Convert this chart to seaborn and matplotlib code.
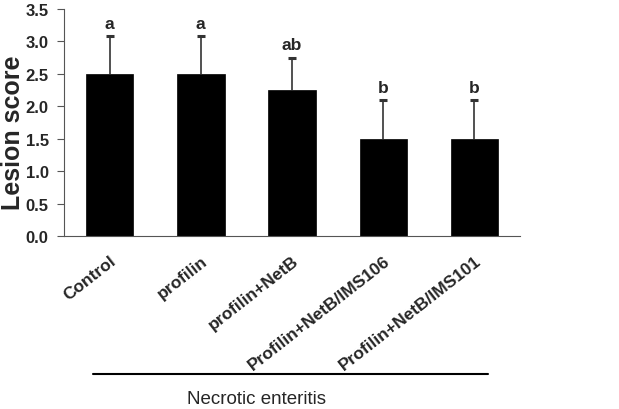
import matplotlib
matplotlib.use("Agg")
import matplotlib.pyplot as plt
import seaborn as sns
import pandas as pd
import numpy as np
from matplotlib.lines import Line2D

categories = ["Control", "profilin", "profilin+NetB", "Profilin+NetB/IMS106", "Profilin+NetB/IMS101"]
scores = [2.5, 2.5, 2.25, 1.5, 1.5]
errors = [0.58, 0.58, 0.5, 0.6, 0.6]
letters = ["a", "a", "ab", "b", "b"]
yticks = [0.0, 0.5, 1.0, 1.5, 2.0, 2.5, 3.0, 3.5]

sns.set_style("white")
plt.rcParams['font.family'] = ['Liberation Sans', 'DejaVu Sans']

df = pd.DataFrame({"group": categories, "score": scores})

fig = plt.figure(figsize=(6.19, 4.10), dpi=100)
ax = fig.add_axes([0.1034, 0.422, 0.7367, 0.5536])

sns.barplot(data=df, x="group", y="score", color="black", width=0.52,
            errorbar=None, ax=ax, saturation=1, edgecolor="black", linewidth=0.5)

xpos = np.arange(len(categories))
eb = ax.errorbar(xpos, scores, yerr=[np.zeros(len(errors)), errors], fmt="none",
                 ecolor="#333333", elinewidth=1.2, capsize=3, capthick=2.2, zorder=3)
eb[1][0].set_visible(False)

for x, s, e, l in zip(xpos, scores, errors, letters):
    ax.text(x, s + e + 0.08, l, ha="center", va="bottom", fontsize=12.5,
            fontweight="bold")

ax.set_xlim(-0.5, 4.5)
ax.set_ylim(0, 3.5)
ax.set_yticks(yticks)
ax.set_yticklabels([f"{v:.1f}" for v in yticks], fontsize=12, fontweight="bold")
ax.set_xticks(xpos)
ax.set_xticklabels(categories, rotation=38, ha="right", rotation_mode="anchor",
                   fontsize=12.5, fontweight="bold")
ax.set_xticks(np.arange(-0.5, 5.0, 1.0), minor=True)
ax.tick_params(axis="x", which="major", length=0, pad=12)
ax.tick_params(axis="x", which="minor", length=5, width=0.8, color="#555555", direction="out")
ax.tick_params(axis="y", length=5, width=0.8, color="#555555", direction="out", pad=6, left=True)
ax.set_xlabel("")
ax.set_ylabel("Lesion score", fontsize=18, fontweight="bold")
ax.yaxis.set_label_coords(-0.086, 0.46)

for sp in ["top", "right"]:
    ax.spines[sp].set_visible(False)
for sp in ["left", "bottom"]:
    ax.spines[sp].set_color("#555555")
    ax.spines[sp].set_linewidth(0.8)

fig.add_artist(Line2D([0.150, 0.788], [0.0854, 0.0854], color="black", linewidth=1.5,
                      transform=fig.transFigure))
fig.text(0.415, 0.026, "Necrotic enteritis", ha="center", va="center", fontsize=13.5)

fig.savefig("out.png", dpi=100)
